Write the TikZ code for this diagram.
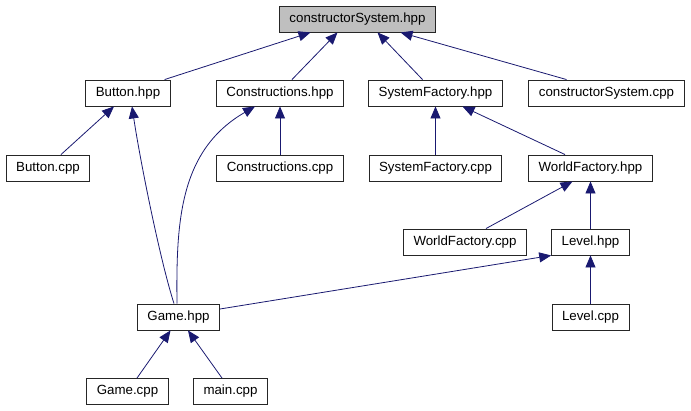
\documentclass[tikz,border=0pt]{standalone}
\usepackage{fontspec}
\setmainfont{Liberation Sans}
\usepackage{tikz}
\usetikzlibrary{arrows.meta}
\definecolor{edgeblue}{HTML}{191970}
\definecolor{rootgray}{HTML}{BFBFBF}
\tikzset{
    file/.style={
        draw=black!85, line width=0.9pt,
        fill=white,
        inner xsep=10pt, inner ysep=0pt,
        minimum height=26pt,
        font=\fontsize{13.3}{16}\selectfont
    },
    root/.style={
        file,
        fill=rootgray
    },
    dep/.style={
        draw=edgeblue, line width=0.8pt,
        -{Triangle[length=12pt, width=10pt]},
    },
}

\begin{document}
\begin{tikzpicture}[x=1pt, y=-1pt]
        \useasboundingbox (0,0) rectangle (691,411);

        \node[root] (csh) at (357.5,19) {constructorSystem.hpp};

        \node[file] (btnh) at (128,93) {Button.hpp};
        \node[file] (conh) at (280,93) {Constructions.hpp};
        \node[file] (sfh) at (435.5,93) {SystemFactory.hpp};
        \node[file] (csc) at (606.5,93) {constructorSystem.cpp};

        \node[file] (btnc) at (48,168) {Button.cpp};
        \node[file] (conc) at (280,168) {Constructions.cpp};
        \node[file] (sfc) at (435.5,168) {SystemFactory.cpp};
        \node[file] (wfh) at (590.5,168) {WorldFactory.hpp};

        \node[file] (wfc) at (465,242) {WorldFactory.cpp};
        \node[file] (lvh) at (590.5,242) {Level.hpp};

        \node[file] (gameh) at (178.5,317) {Game.hpp};
        \node[file] (lvc) at (590.5,317) {Level.cpp};

        \node[file] (gamec) at (127.5,391.5) {Game.cpp};
        \node[file] (mainc) at (230.5,391.5) {main.cpp};

        \draw[dep] ([xshift=-6pt]btnh.north east) -- ([xshift=-47pt]csh.south);
        \draw[dep] ([xshift=12pt]conh.north) -- ([xshift=-20pt]csh.south);
        \draw[dep] ([xshift=-13pt]sfh.north) -- ([xshift=20pt]csh.south);
        \draw[dep] ([xshift=-40pt]csc.north) -- ([xshift=43pt]csh.south);

        \draw[dep] ([xshift=13pt]btnc.north) -- ([xshift=-14pt]btnh.south);
        \draw[dep] ([xshift=-4.5pt]gameh.north) .. controls (160,260) and (140,160) .. ([xshift=4pt]btnh.south);
        \draw[dep] ([xshift=-1.5pt]gameh.north) .. controls (176,220) and (180,150) .. ([xshift=-25pt]conh.south);

        \foreach \a/\b in {conc/conh, sfc/sfh, lvh/wfh, lvc/lvh}
            \draw[dep] (\a) -- (\b);

        \draw[dep] ([xshift=-25.5pt]wfh.north) -- ([xshift=27pt]sfh.south);
        \draw[dep] ([xshift=21pt]wfc.north) -- ([xshift=-18pt]wfh.south);
        \draw[dep] ([yshift=8pt]gameh.east) -- (lvh.south west);

        \draw[dep] ([xshift=9.5pt]gamec.north) -- ([xshift=-8pt]gameh.south);
        \draw[dep] ([xshift=-8.5pt]mainc.north) -- ([xshift=9.5pt]gameh.south);
    \end{tikzpicture}
\end{document}
